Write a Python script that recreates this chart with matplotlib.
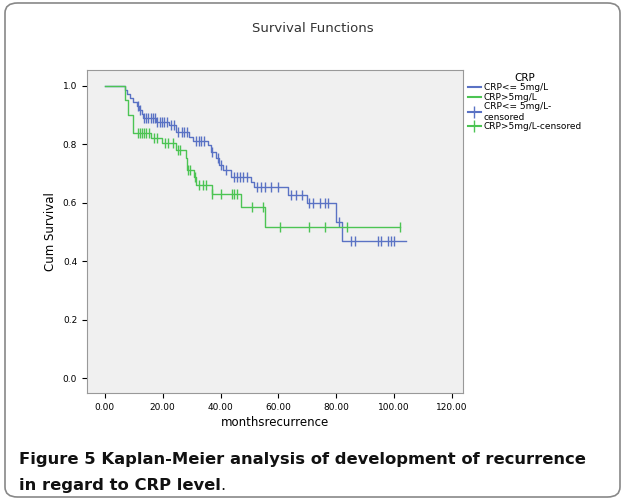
import matplotlib.pyplot as plt
from matplotlib.patches import FancyBboxPatch
from matplotlib.lines import Line2D

# step curves: (time, survival after the step)
blue_t = [0, 6.9, 7.7, 8.6, 9.6, 11, 11.9, 12.7, 13.1, 17.7, 22.3, 24.6, 29.1, 30.3, 35.5, 36.6,
          38.4, 39.3, 40.7, 43.6, 50.4, 51.6, 63.4, 70, 79.8, 81.8]
blue_s = [1.0, 0.986, 0.973, 0.959, 0.945, 0.931, 0.918, 0.904, 0.889, 0.878, 0.866, 0.844, 0.826,
          0.813, 0.798, 0.775, 0.752, 0.729, 0.712, 0.689, 0.672, 0.655, 0.627, 0.598, 0.535, 0.470]
blue_cens = [11.5, 12.3, 13.5, 14.2, 15, 15.8, 16.5, 17.2, 18.2, 19, 19.8, 20.6, 21.5, 23, 23.8,
             25.4, 26.5, 27.4, 28.3, 31.5, 32.4, 33.4, 34.3, 37.2, 39, 40, 42, 44.5, 45.6, 46.8,
             47.9, 49, 52.5, 53.8, 55.2, 57.5, 60, 64.5, 66, 68, 70.7, 72, 74.5, 76, 77, 81, 85,
             86.3, 94.5, 95.3, 98, 98.9, 99.8]
green_t = [0, 6.9, 8.1, 9.6, 16.1, 19.6, 24.5, 28, 28.5, 30.8, 31.6, 36.9, 46.9, 55.3]
green_s = [1.0, 0.952, 0.90, 0.838, 0.821, 0.804, 0.781, 0.752, 0.712, 0.687, 0.661, 0.630,
           0.585, 0.518]
green_cens = [11.3, 12, 12.8, 13.6, 14.4, 15.3, 17, 18, 20.7, 21.9, 23.4, 25.3, 25.9, 28.9, 29.5,
              31.1, 32.7, 33.9, 35, 37.2, 40.3, 43.8, 44.6, 45.5, 50.7, 54.8, 60.5, 70.4, 76.1,
              83.6, 101.9]
blue_end = 104
green_end = 101.9

c_blue = '#5a72c4'
c_green = '#4cc453'

fig = plt.figure(figsize=(6.25, 4.99), dpi=100)
fig.patches.append(FancyBboxPatch((0.008, 0.004), 0.984, 0.99, boxstyle='round,pad=0,rounding_size=0.02',
                                  transform=fig.transFigure, fill=False, ec='#888888', lw=1.2))
fig.text(0.5, 0.935, 'Survival Functions', ha='center', fontsize=9.5, color='#333333')

ax = fig.add_axes([0.139, 0.212, 0.602, 0.648])
ax.set_facecolor('#f0f0f0')


def surv_at(ts, ss, x):
    v = ss[0]
    for t, s in zip(ts, ss):
        if x >= t:
            v = s
    return v


for ts, ss, cens, end, c in [(blue_t, blue_s, blue_cens, blue_end, c_blue),
                             (green_t, green_s, green_cens, green_end, c_green)]:
    ax.step(ts + [end], ss + [ss[-1]], where='post', color=c, lw=1)
    ax.plot(cens, [surv_at(ts, ss, x) for x in cens], ls='none', marker='|', ms=7, mew=1, color=c)

ax.set_xlim(-6.2, 123.8)
ax.set_ylim(-0.051, 1.055)
ax.set_xticks([0, 20, 40, 60, 80, 100, 120])
ax.set_xticklabels(['%.2f' % v for v in [0, 20, 40, 60, 80, 100, 120]], fontsize=6.5)
ax.set_yticks([0, 0.2, 0.4, 0.6, 0.8, 1.0])
ax.set_yticklabels(['0.0', '0.2', '0.4', '0.6', '0.8', '1.0'], fontsize=6.5)
ax.set_xlabel('monthsrecurrence', fontsize=8.5, labelpad=3)
ax.set_ylabel('Cum Survival', fontsize=8.5)
for s in ax.spines.values():
    s.set_color('#999999')

handles = [Line2D([], [], color=c_blue, drawstyle='steps-post'),
           Line2D([], [], color=c_green, drawstyle='steps-post'),
           Line2D([], [], color=c_blue, marker='|', ms=8),
           Line2D([], [], color=c_green, marker='|', ms=8)]
labels = ['CRP<= 5mg/L', 'CRP>5mg/L', 'CRP<= 5mg/L-\ncensored', 'CRP>5mg/L-censored']
fig.legend(handles, labels, title='CRP', loc='upper left', bbox_to_anchor=(0.735, 0.87),
           frameon=False, fontsize=6.5, title_fontsize=7.5, handlelength=1.5,
           handletextpad=0.3, labelspacing=0.05)

fig.text(0.03, 0.07, 'Figure 5 Kaplan-Meier analysis of development of recurrence',
         fontsize=11.8, fontweight='bold', color='#111111')
t2 = fig.text(0.03, 0.018, 'in regard to CRP level', fontsize=11.8, fontweight='bold', color='#111111')
fig.canvas.draw()
bb = t2.get_window_extent().transformed(fig.transFigure.inverted())
fig.text(bb.x1, 0.018, '.', fontsize=11.8, color='#111111')

fig.savefig('out.png')
